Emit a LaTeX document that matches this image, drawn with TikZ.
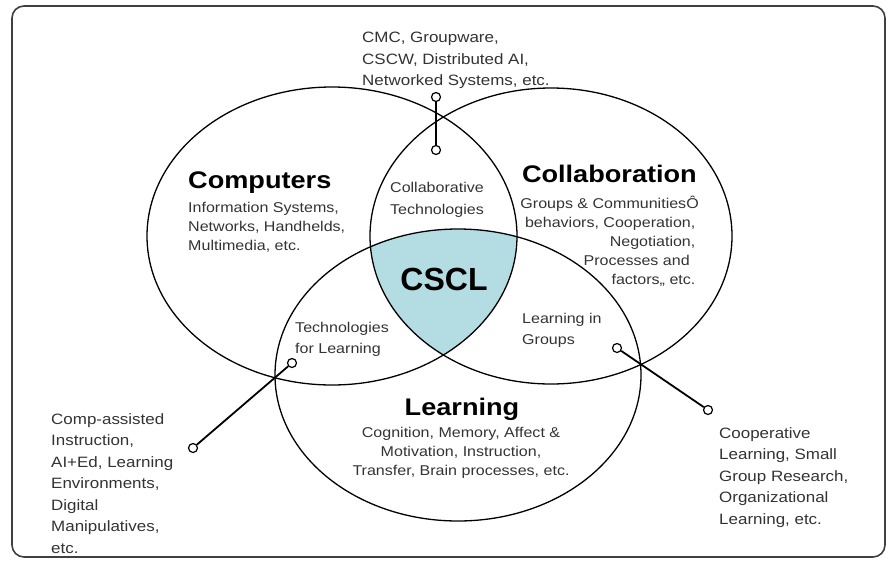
\documentclass[tikz,border=0pt]{standalone}
\usepackage{fontspec}
\setmainfont{Liberation Sans}
\usepackage{tikz}

\definecolor{csclblue}{HTML}{B3DDE3}
\definecolor{notegray}{HTML}{333333}

\tikzset{
  dot/.style={circle,draw,fill=white,inner sep=0pt,minimum size=9pt,line width=1.2pt},
  head/.style={font=\fontsize{24}{28}\selectfont\bfseries,inner sep=0pt,xscale=1.13,transform shape},
  small/.style={font=\fontsize{14.2}{19}\selectfont,text=notegray,inner sep=0pt,xscale=1.13,transform shape},
  side/.style={font=\fontsize{15}{21.5}\selectfont,text=notegray,inner sep=0pt,align=left,xscale=1.13,transform shape},
}

\begin{document}
\begin{tikzpicture}[x=1pt,y=-1pt]
\useasboundingbox (0,0) rectangle (886,560);

% Frame
\draw[line width=1.6pt,black!75,rounded corners=12pt] (12,6) rectangle (885,557);

% CSCL area (all three sets)
\begin{scope}
  \clip (332,236) ellipse (185 and 149);
  \clip (551,236) ellipse (181 and 148);
  \fill[csclblue] (458,375) ellipse (183 and 146);
\end{scope}

% Sets
\draw[line width=1.3pt] (332,236) ellipse (185 and 149);
\draw[line width=1.3pt] (551,236) ellipse (181 and 148);
\draw[line width=1.3pt] (458,375) ellipse (183 and 146);

% Set labels
\node[head,anchor=base west] (comp) at (188,188) {Computers};
\node[small,anchor=north west,align=left] (compsub) at (188,202)
  {Information Systems,\\Networks, Handhelds,\\Multimedia, etc.};

\node[head,anchor=base east] (collab) at (697,182) {Collaboration};
\node[small,anchor=north east,align=right] (collabsub) at (699,196)
  {Groups \& CommunitiesÔ\\behaviors, Cooperation,\rule{3pt}{0pt}\\Negotiation,\rule{3pt}{0pt}\\Processes and\rule{8pt}{0pt}\\factors,, etc.\rule{3pt}{0pt}};

\node[head,anchor=base] (learn) at (462,415) {Learning};
\node[small,anchor=north,align=center] (learnsub) at (461,427)
  {Cognition, Memory, Affect \&\\Motivation, Instruction,\\Transfer, Brain processes, etc.};

% Overlaps
\node[font=\fontsize{32}{36}\selectfont\bfseries,inner sep=0pt,anchor=base] (cscl) at (444,290) {CSCL};
\node[small,font=\fontsize{14.2}{22}\selectfont,anchor=north,align=center] (collabtech) at (437,182)
  {Collaborative\\Technologies};
\node[small,font=\fontsize{14.2}{21}\selectfont,anchor=north west,align=left] (techlearn) at (295,322)
  {Technologies\\for Learning};
\node[small,font=\fontsize{14.2}{21}\selectfont,anchor=north west,align=left] (learngroups) at (522,313)
  {Learning in\\Groups};

% Notes
\node[side,anchor=north west] (topnote) at (362,32)
  {CMC, Groupware,\\CSCW, Distributed AI,\\Networked Systems, etc.};
\node[side,anchor=north west] (leftnote) at (51,413)
  {Comp-assisted\\Instruction,\\AI+Ed, Learning\\Environments,\\Digital\\Manipulatives,\\etc.};
\node[side,anchor=north west] (rightnote) at (719,427)
  {Cooperative\\Learning, Small\\Group Research,\\Organizational\\Learning, etc.};

% Pointers
\node[dot] (topin) at (436,150) {};
\node[dot] (topout) at (436,97) {};
\node[dot] (leftin) at (292,363) {};
\node[dot] (leftout) at (193,448) {};
\node[dot] (rightin) at (617,348) {};
\node[dot] (rightout) at (708,410) {};

\draw[line width=1.8pt] (topin) -- (topout);
\draw[line width=1.8pt] (leftin) -- (leftout);
\draw[line width=1.8pt] (rightin) -- (rightout);
\end{tikzpicture}
\end{document}
